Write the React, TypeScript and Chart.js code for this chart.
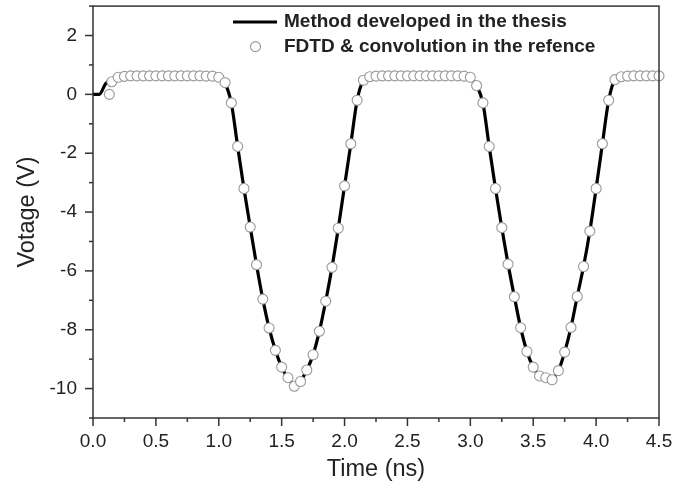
import React, { useEffect, useRef } from 'react';
import { Chart, registerables } from 'chart.js';

Chart.register(...registerables);

// Reference data: "FDTD & convolution in the refence" (circles)
const refTime = [
  0.13, 0.15, 0.2, 0.25, 0.3, 0.35, 0.4, 0.45, 0.5, 0.55, 0.6, 0.65, 0.7, 0.75, 0.8, 0.85, 0.9, 0.95,
  1.0, 1.05, 1.1, 1.15, 1.2, 1.25, 1.3, 1.35, 1.4, 1.45, 1.5, 1.55, 1.6, 1.65, 1.7, 1.75, 1.8, 1.85,
  1.9, 1.95, 2.0, 2.05, 2.1, 2.15, 2.2, 2.25, 2.3, 2.35, 2.4, 2.45, 2.5, 2.55, 2.6, 2.65, 2.7, 2.75,
  2.8, 2.85, 2.9, 2.95, 3.0, 3.05, 3.1, 3.15, 3.2, 3.25, 3.3, 3.35, 3.4, 3.45, 3.5, 3.55, 3.6, 3.65,
  3.7, 3.75, 3.8, 3.85, 3.9, 3.95, 4.0, 4.05, 4.1, 4.15, 4.2, 4.25, 4.3, 4.35, 4.4, 4.45, 4.5,
];
const refVolt = [
  0.0, 0.43, 0.58, 0.61, 0.63, 0.63, 0.63, 0.63, 0.63, 0.63, 0.63, 0.63, 0.63, 0.63, 0.63, 0.63, 0.62, 0.62,
  0.58, 0.4, -0.29, -1.77, -3.2, -4.51, -5.79, -6.96, -7.94, -8.7, -9.27, -9.63, -9.92, -9.76, -9.37, -8.85, -8.05, -7.03,
  -5.88, -4.55, -3.11, -1.68, -0.2, 0.48, 0.6, 0.62, 0.63, 0.63, 0.63, 0.63, 0.63, 0.63, 0.63, 0.63, 0.63, 0.63,
  0.63, 0.63, 0.63, 0.62, 0.58, 0.3, -0.29, -1.77, -3.2, -4.53, -5.77, -6.88, -7.93, -8.74, -9.27, -9.57, -9.63, -9.7,
  -9.39, -8.76, -7.92, -6.87, -5.85, -4.65, -3.2, -1.68, -0.2, 0.5, 0.6, 0.62, 0.63, 0.63, 0.63, 0.63, 0.63,
];

// "Method developed in the thesis" (solid line)
const lineTime = [
  0.0, 0.05, 0.1, 0.15, 0.2, 0.25, 0.95, 1.0, 1.05, 1.1, 1.15, 1.2, 1.25, 1.3, 1.35, 1.4, 1.45, 1.5, 1.55,
  1.6, 1.65, 1.7, 1.75, 1.8, 1.85, 1.9, 1.95, 2.0, 2.05, 2.1, 2.15, 2.2, 2.25, 2.95, 3.0, 3.05, 3.1, 3.15,
  3.2, 3.25, 3.3, 3.35, 3.4, 3.45, 3.5, 3.55, 3.6, 3.65, 3.7, 3.75, 3.8, 3.85, 3.9, 3.95, 4.0, 4.05, 4.1,
  4.15, 4.2, 4.25, 4.5,
];
const lineVolt = [
  0.0, 0.0, 0.36, 0.53, 0.6, 0.63, 0.62, 0.58, 0.38, -0.3, -1.77, -3.2, -4.51, -5.79, -6.96, -7.94, -8.7, -9.27, -9.65,
  -9.85, -9.74, -9.37, -8.85, -8.05, -7.03, -5.88, -4.55, -3.11, -1.68, -0.2, 0.48, 0.6, 0.63, 0.62, 0.58, 0.3, -0.3, -1.77,
  -3.2, -4.53, -5.77, -6.88, -7.93, -8.74, -9.27, -9.55, -9.64, -9.66, -9.39, -8.76, -7.92, -6.87, -5.85, -4.65, -3.2, -1.68, -0.2,
  0.5, 0.6, 0.63, 0.63,
];

const xMin = 0;
const xMax = 4.5;
const yMin = -11;
const yMax = 3;

const seriesLine = 'Method developed in the thesis';
const seriesRef = 'FDTD & convolution in the refence';
const xTitle = 'Time (ns)';
const yTitle = 'Votage (V)';

const FONT = "'Liberation Sans', Arial, sans-serif";
const AXIS = '#333333';
const TEXT = '#222222';

const framePlugin = {
  id: 'frameTicksLegend',
  afterDraw(chart: any) {
    const { ctx, chartArea } = chart;
    const { left, right, top, bottom } = chartArea;
    const xs = chart.scales.x;
    const ys = chart.scales.y;
    ctx.save();
    ctx.strokeStyle = AXIS;
    ctx.lineWidth = 1.5;
    ctx.strokeRect(left, top, right - left, bottom - top);
    xs.ticks.forEach((t: any) => {
      const px = xs.getPixelForValue(t.value);
      const major = t.label !== '';
      ctx.beginPath();
      ctx.moveTo(px, bottom);
      ctx.lineTo(px, bottom + (major ? 8 : 4));
      ctx.stroke();
    });
    ys.ticks.forEach((t: any) => {
      const py = ys.getPixelForValue(t.value);
      const major = t.label !== '';
      ctx.beginPath();
      ctx.moveTo(left, py);
      ctx.lineTo(left - (major ? 8 : 4), py);
      ctx.stroke();
    });

    // legend (inside plot area, top right)
    const lx = left + 140;
    const tx = left + 191;
    const y1 = top + 16;
    const y2 = top + 40.5;
    ctx.strokeStyle = '#000';
    ctx.lineWidth = 3;
    ctx.beginPath();
    ctx.moveTo(lx, y1);
    ctx.lineTo(lx + 44, y1);
    ctx.stroke();
    ctx.beginPath();
    ctx.arc(lx + 22.5, y2, 5, 0, Math.PI * 2);
    ctx.fillStyle = '#fff';
    ctx.fill();
    ctx.strokeStyle = '#999999';
    ctx.lineWidth = 1.1;
    ctx.stroke();
    ctx.fillStyle = TEXT;
    ctx.font = `bold 19px ${FONT}`;
    ctx.textAlign = 'left';
    ctx.textBaseline = 'middle';
    ctx.fillText(seriesLine, tx, y1);
    ctx.fillText(seriesRef, tx, y2);
    ctx.restore();
  },
};

export default function App() {
  const ref = useRef<HTMLCanvasElement | null>(null);

  useEffect(() => {
    if (!ref.current) return;
    const chart = new Chart(ref.current, {
      type: 'line',
      data: {
        datasets: [
          {
            type: 'scatter',
            label: seriesRef,
            data: refTime.map((t, i) => ({ x: t, y: refVolt[i] })),
            showLine: false,
            pointRadius: 5,
            pointHoverRadius: 5,
            pointBackgroundColor: '#ffffff',
            pointBorderColor: '#999999',
            pointBorderWidth: 1.1,
            order: 0,
            clip: false,
          } as any,
          {
            type: 'line',
            label: seriesLine,
            data: lineTime.map((t, i) => ({ x: t, y: lineVolt[i] })),
            borderColor: '#000000',
            borderWidth: 3.2,
            pointRadius: 0,
            cubicInterpolationMode: 'monotone',
            fill: false,
            order: 1,
          } as any,
        ],
      },
      options: {
        responsive: false,
        animation: false,
        events: [],
        layout: { padding: { top: 6, right: 14, left: 0, bottom: 0 } },
        plugins: {
          legend: { display: false },
          tooltip: { enabled: false },
        },
        scales: {
          x: {
            type: 'linear',
            position: 'bottom',
            min: xMin,
            max: xMax,
            border: { display: false },
            grid: {
              drawOnChartArea: false,
              drawTicks: true,
              tickLength: 8,
              tickColor: 'rgba(0,0,0,0)',
            },
            ticks: {
              stepSize: 0.25,
              autoSkip: false,
              maxRotation: 0,
              padding: 4,
              color: TEXT,
              font: { family: FONT, size: 19 },
              callback: (v: any) => {
                const n = Number(v);
                return Math.abs(n * 2 - Math.round(n * 2)) < 1e-6 ? n.toFixed(1) : '';
              },
            },
            title: {
              display: true,
              text: xTitle,
              color: TEXT,
              font: { family: FONT, size: 23.5 },
              padding: { top: 0, bottom: 11 },
            },
            afterFit: (s: any) => {
              s.height = 77;
              s.paddingLeft = 0;
              s.paddingRight = 0;
            },
          },
          y: {
            type: 'linear',
            min: yMin,
            max: yMax,
            border: { display: false },
            grid: {
              drawOnChartArea: false,
              drawTicks: true,
              tickLength: 8,
              tickColor: 'rgba(0,0,0,0)',
            },
            ticks: {
              stepSize: 1,
              autoSkip: false,
              padding: 8,
              color: TEXT,
              font: { family: FONT, size: 19 },
              callback: (v: any) => {
                const n = Number(v);
                return Math.round(n) % 2 === 0 ? String(n) : '';
              },
            },
            title: {
              display: true,
              text: yTitle,
              color: TEXT,
              font: { family: FONT, size: 23.5 },
              padding: { top: 13, bottom: 0 },
            },
            afterFit: (s: any) => {
              s.width = 93;
              s.paddingTop = 0;
              s.paddingBottom = 0;
            },
          },
        },
      },
      plugins: [framePlugin],
    });
    return () => chart.destroy();
  }, []);

  return (
    <div style={{ position: 'fixed', left: 0, top: 0, width: 673, height: 495, background: '#fff' }}>
      <canvas ref={ref} width={673} height={495} style={{ width: 673, height: 495, display: 'block' }} />
    </div>
  );
}
